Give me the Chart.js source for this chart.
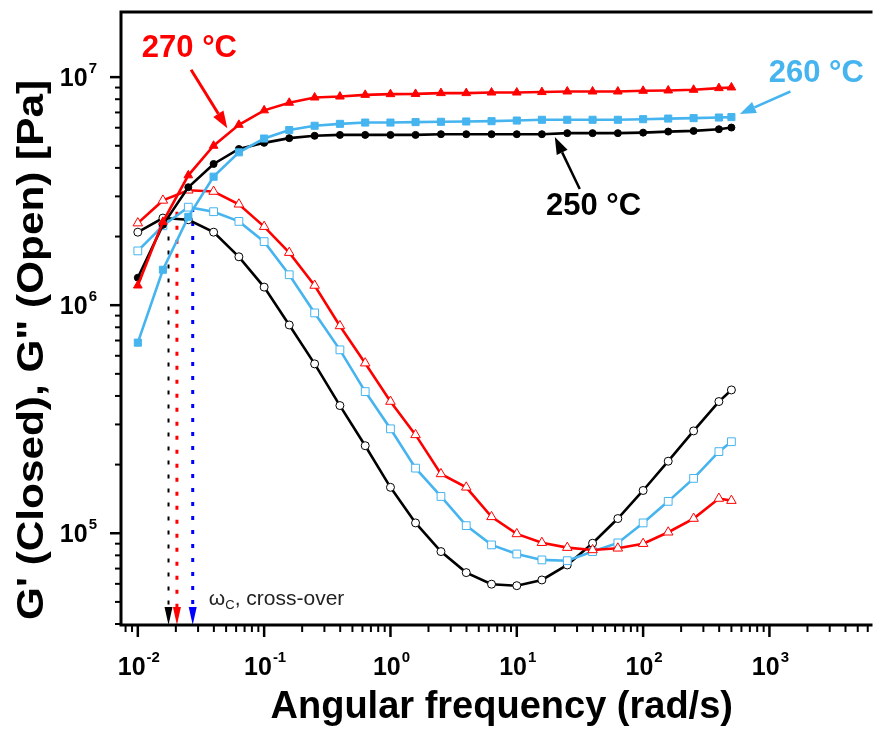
<!DOCTYPE html>
<html>
<head>
<meta charset="utf-8">
<script src="https://cdn.jsdelivr.net/npm/chart.js"></script>
<style>
    html, body { margin: 0; padding: 0; background: #fff; }
    #wrap { width: 877px; height: 730px; }
</style>
</head>
<body>
<div id="wrap"><canvas id="rheo" width="877" height="730"></canvas></div>
<script>
// Angular frequency sweep (rad/s), 5 points per decade + final point
const freq = [0.01, 0.0158, 0.0251, 0.0398, 0.0631, 0.1, 0.158, 0.251, 0.398, 0.631,
              1, 1.58, 2.51, 3.98, 6.31, 10, 15.8, 25.1, 39.8, 63.1,
              100, 158, 251, 398, 500];

// G' (storage modulus, closed symbols) [Pa]
const gStore250 = [1.32e6, 2.25e6, 3.29e6, 4.16e6, 4.84e6, 5.15e6, 5.40e6, 5.53e6, 5.58e6, 5.58e6,
                   5.58e6, 5.58e6, 5.62e6, 5.62e6, 5.62e6, 5.62e6, 5.62e6, 5.68e6, 5.68e6, 5.68e6,
                   5.71e6, 5.77e6, 5.81e6, 5.91e6, 6.01e6];
const gStore260 = [6.85e5, 1.43e6, 2.44e6, 3.66e6, 4.68e6, 5.38e6, 5.86e6, 6.12e6, 6.24e6, 6.32e6,
                   6.32e6, 6.35e6, 6.37e6, 6.39e6, 6.41e6, 6.45e6, 6.50e6, 6.50e6, 6.50e6, 6.50e6,
                   6.54e6, 6.58e6, 6.61e6, 6.65e6, 6.68e6];
const gStore270 = [1.22e6, 2.32e6, 3.71e6, 5.00e6, 6.18e6, 7.15e6, 7.72e6, 8.14e6, 8.22e6, 8.36e6,
                   8.42e6, 8.44e6, 8.51e6, 8.51e6, 8.56e6, 8.56e6, 8.60e6, 8.65e6, 8.65e6, 8.65e6,
                   8.71e6, 8.74e6, 8.80e6, 8.95e6, 9.01e6];

// G'' (loss modulus, open symbols) [Pa]
const gLoss250 = [2.09e6, 2.41e6, 2.37e6, 2.09e6, 1.63e6, 1.20e6, 8.19e5, 5.53e5, 3.63e5, 2.42e5,
                  1.59e5, 1.11e5, 8.31e4, 6.72e4, 5.98e4, 5.89e4, 6.24e4, 7.26e4, 9.04e4, 1.16e5,
                  1.54e5, 2.07e5, 2.81e5, 3.78e5, 4.25e5];
const gLoss260 = [1.73e6, 2.23e6, 2.69e6, 2.57e6, 2.33e6, 1.90e6, 1.36e6, 9.25e5, 6.37e5, 4.18e5,
                  2.87e5, 1.93e5, 1.45e5, 1.08e5, 8.89e4, 8.11e4, 7.64e4, 7.58e4, 8.31e4, 9.07e4,
                  1.11e5, 1.38e5, 1.74e5, 2.28e5, 2.52e5];
const gLoss270 = [2.29e6, 2.88e6, 3.19e6, 3.15e6, 2.77e6, 2.21e6, 1.70e6, 1.22e6, 8.11e5, 5.57e5,
                  3.78e5, 2.70e5, 1.82e5, 1.59e5, 1.18e5, 9.93e4, 9.09e4, 8.65e4, 8.45e4, 8.59e4,
                  9.00e4, 1.01e5, 1.16e5, 1.42e5, 1.39e5];

// cross-over frequencies (G' = G'') and where the dotted markers start
const crossFreq = [0.0175, 0.0204, 0.0272];
const crossTop = [2.0e6, 2.57e6, 2.67e6];
const crossColors = ['#000000', '#ff0000', '#0000ff'];

// axis ticks
const xDecades = [-2, -1, 0, 1, 2, 3];
const yDecades = [5, 6, 7];

const RED = '#ff0000';
const BLUE = '#45b4ef';
const BLACK = '#000000';
const FONT = '"Liberation Sans", Arial, Helvetica, sans-serif';

const pts = vals => freq.map((f, i) => ({ x: f, y: vals[i] }));

function series(label, vals, color, style, radius, open) {
    return {
        label: label,
        data: pts(vals),
        showLine: true,
        borderColor: color,
        borderWidth: 2.6,
        pointStyle: style,
        pointRadius: radius,
        pointBorderColor: color,
        pointBackgroundColor: open ? '#ffffff' : color,
        pointBorderWidth: 1,
        tension: 0
    };
}

function arrow(ctx, x1, y1, x2, y2, color, width, headLen, headHalf) {
    const ang = Math.atan2(y2 - y1, x2 - x1);
    const bx = x2 - Math.cos(ang) * headLen;
    const by = y2 - Math.sin(ang) * headLen;
    ctx.save();
    ctx.strokeStyle = color;
    ctx.fillStyle = color;
    ctx.lineWidth = width;
    ctx.beginPath();
    ctx.moveTo(x1, y1);
    ctx.lineTo(bx, by);
    ctx.stroke();
    ctx.beginPath();
    ctx.moveTo(x2, y2);
    ctx.lineTo(bx + Math.sin(ang) * headHalf, by - Math.cos(ang) * headHalf);
    ctx.lineTo(bx - Math.sin(ang) * headHalf, by + Math.cos(ang) * headHalf);
    ctx.closePath();
    ctx.fill();
    ctx.restore();
}

// "10" with a raised exponent
function powLabel(ctx, exp, x, y, align) {
    ctx.font = 'bold 25px ' + FONT;
    const wBase = ctx.measureText('10').width;
    ctx.font = 'bold 15px ' + FONT;
    const wExp = ctx.measureText(exp).width;
    const total = wBase + wExp + 1;
    const x0 = align === 'right' ? x - total : x - total / 2;
    ctx.textAlign = 'left';
    ctx.textBaseline = 'alphabetic';
    ctx.font = 'bold 25px ' + FONT;
    ctx.fillText('10', x0, y);
    ctx.font = 'bold 15px ' + FONT;
    ctx.fillText(exp, x0 + wBase + 1, y - 13);
}

// dotted cross-over markers under the curves
const crossPlugin = {
    id: 'crossover',
    beforeDatasetsDraw(chart) {
        const { ctx, scales: { x, y }, chartArea } = chart;
        crossFreq.forEach((f, i) => {
            const px = x.getPixelForValue(f);
            const top = y.getPixelForValue(crossTop[i]);
            ctx.save();
            ctx.strokeStyle = crossColors[i];
            ctx.lineWidth = i === 0 ? 2 : 3;
            ctx.setLineDash([4, 10]);
            ctx.beginPath();
            ctx.moveTo(px, top);
            ctx.lineTo(px, chartArea.bottom - 16);
            ctx.stroke();
            ctx.setLineDash([]);
            ctx.fillStyle = crossColors[i];
            ctx.beginPath();
            ctx.moveTo(px - 4, chartArea.bottom - 18);
            ctx.lineTo(px + 4, chartArea.bottom - 18);
            ctx.lineTo(px, chartArea.bottom);
            ctx.closePath();
            ctx.fill();
            ctx.restore();
        });
        ctx.save();
        ctx.fillStyle = '#222';
        const tx = x.getPixelForValue(0.0365);
        const ty = y.getPixelForValue(4.85e4);
        ctx.font = '21px ' + FONT;
        ctx.textBaseline = 'alphabetic';
        ctx.fillText('\u03c9', tx, ty);
        const wO = ctx.measureText('\u03c9').width;
        ctx.font = '13px ' + FONT;
        ctx.fillText('C', tx + wO, ty + 4);
        const wC = ctx.measureText('C').width;
        ctx.font = '21px ' + FONT;
        ctx.fillText(', cross-over', tx + wO + wC, ty);
        ctx.restore();
    }
};

// frame, ticks, tick labels, titles, temperature callouts
const axesPlugin = {
    id: 'axes',
    afterDraw(chart) {
        const { ctx, scales: { x, y }, chartArea: a } = chart;
        ctx.save();
        ctx.strokeStyle = '#000';
        ctx.fillStyle = '#000';
        ctx.lineWidth = 3;
        ctx.beginPath();
        ctx.moveTo(a.right + 2, a.top);
        ctx.lineTo(a.left, a.top);
        ctx.lineTo(a.left, a.bottom);
        ctx.lineTo(a.right + 2, a.bottom);
        ctx.stroke();

        // x ticks
        for (let d = -3; d <= 3; d++) {
            for (let m = 1; m <= 9; m++) {
                const v = m * Math.pow(10, d);
                if (v < x.min || v > x.max) continue;
                const px = x.getPixelForValue(v);
                ctx.lineWidth = m === 1 ? 2.5 : 2;
                ctx.beginPath();
                ctx.moveTo(px, a.bottom);
                ctx.lineTo(px, a.bottom + (m === 1 ? 12 : 7));
                ctx.stroke();
            }
        }
        // y ticks
        for (let d = 4; d <= 7; d++) {
            for (let m = 1; m <= 9; m++) {
                const v = m * Math.pow(10, d);
                if (v < y.min || v > y.max) continue;
                const py = y.getPixelForValue(v);
                ctx.lineWidth = m === 1 ? 2.5 : 2;
                ctx.beginPath();
                ctx.moveTo(a.left, py);
                ctx.lineTo(a.left - (m === 1 ? 11 : 6), py);
                ctx.stroke();
            }
        }

        xDecades.forEach(d => powLabel(ctx, String(d), x.getPixelForValue(Math.pow(10, d)) + 1, a.bottom + 50, 'center'));
        yDecades.forEach(d => powLabel(ctx, String(d), a.left - 24, y.getPixelForValue(Math.pow(10, d)) + 9, 'right'));

        // axis titles
        ctx.font = 'bold 38px ' + FONT;
        ctx.textAlign = 'center';
        ctx.textBaseline = 'alphabetic';
        ctx.fillText('Angular frequency (rad/s)', (a.left + a.right) / 2 + 6, 718);

        // y title is set wide, spanning nearly the whole axis
        const yTitle = 'G\' (Closed), G" (Open) [Pa]';
        ctx.save();
        ctx.translate(43, 350);
        ctx.rotate(-Math.PI / 2);
        ctx.font = 'bold 36px ' + FONT;
        ctx.scale(540 / ctx.measureText(yTitle).width, 1);
        ctx.fillText(yTitle, 0, 0);
        ctx.restore();

        // temperature callouts
        ctx.font = 'bold 31px ' + FONT;
        ctx.textAlign = 'center';
        ctx.textBaseline = 'middle';
        const P = (fx, fy) => [x.getPixelForValue(fx), y.getPixelForValue(fy)];

        let p = P(0.0256, 1.33e7);
        ctx.fillStyle = RED;
        ctx.fillText('270 \u00b0C', p[0], p[1]);
        arrow(ctx, ...P(0.0264, 1.077e7), ...P(0.0511, 5.97e6), RED, 3, 17, 6);

        p = P(2350, 1.034e7);
        ctx.fillStyle = BLUE;
        ctx.fillText('260 \u00b0C', p[0], p[1]);
        arrow(ctx, ...P(1466, 8.65e6), ...P(583, 6.9e6), BLUE, 2.5, 16, 6);

        p = P(40.5, 2.70e6);
        ctx.fillStyle = BLACK;
        ctx.fillText('250 \u00b0C', p[0], p[1]);
        arrow(ctx, ...P(31.5, 3.23e6), ...P(20.0, 5.46e6), BLACK, 2.5, 17, 6);

        ctx.restore();
    }
};

new Chart(document.getElementById('rheo'), {
    type: 'scatter',
    data: {
        datasets: [
            series("G' 270", gStore270, RED, 'triangle', 5, false),
            series("G' 260", gStore260, BLUE, 'rect', 5, false),
            series("G' 250", gStore250, BLACK, 'circle', 3.5, false),
            series("G'' 270", gLoss270, RED, 'triangle', 5.5, true),
            series("G'' 260", gLoss260, BLUE, 'rect', 5.5, true),
            series("G'' 250", gLoss250, BLACK, 'circle', 4, true)
        ]
    },
    options: {
        responsive: false,
        devicePixelRatio: 1,
        animation: false,
        layout: { padding: { left: 121, top: 12, right: 0, bottom: 105 } },
        plugins: { legend: { display: false }, tooltip: { enabled: false } },
        scales: {
            x: { type: 'logarithmic', min: 0.00736, max: 6310, display: false },
            y: { type: 'logarithmic', min: 39600, max: 1.93e7, display: false }
        }
    },
    plugins: [crossPlugin, axesPlugin]
});
</script>
</body>
</html>
